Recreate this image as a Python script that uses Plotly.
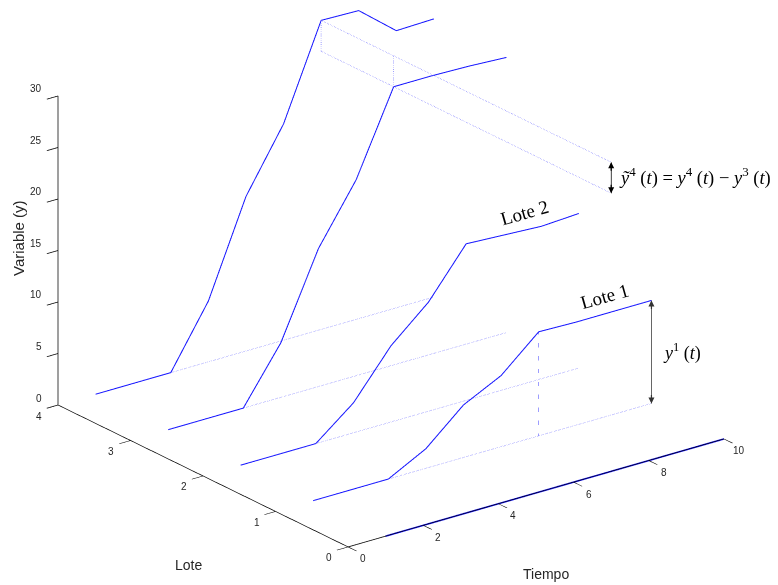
import plotly.graph_objects as go

# ---- data ----
tiempo = [1, 2, 3, 4, 5, 6, 7, 8, 9, 10]
lotes = [0, 1, 2, 3, 4]
y_lote0 = [0, 0, 0, 0, 0, 0, 0, 0, 0, 0]
y_lote1 = [0, 0, 0, 1.9, 5.1, 6.9, 10.1, 10.0, 10.0, 10.0]
y_lote2 = [0, 0, 0, 2.9, 7.4, 10.6, 15.2, 15.0, 14.8, 15.0]
y_lote3 = [0, 0, 0, 5.3, 13.4, 19.0, 27.0, 27.0, 26.9, 26.7]
y_lote4 = [0, 0, 0, 5.9, 15.0, 21.0, 30.0, 29.9, 26.9, 27.0]
series = [y_lote0, y_lote1, y_lote2, y_lote3, y_lote4]

x_ticks = [0, 2, 4, 6, 8, 10]
lote_ticks = [0, 1, 2, 3, 4]
z_ticks = [0, 5, 10, 15, 20, 25, 30]

BLUE = "#1414ff"
LIGHT = "#7c7cff"
ARROW = "#333333"
TICKC = "#262626"

fig = go.Figure()

# batch trajectories
for lote, ys in zip(lotes, series):
    fig.add_trace(go.Scatter3d(
        x=tiempo, y=[lote] * len(tiempo), z=ys, mode="lines",
        line=dict(color=BLUE, width=3.2 if lote == 0 else 2.0),
        hoverinfo="skip", showlegend=False))

# dotted base lines (z = 0) from t=3 to t=10 for lotes 1..4
t_start = tiempo[2]
t_end = tiempo[-1]
dot = dict(color=LIGHT, width=1.5, dash="dot")
for lote in lotes[1:]:
    fig.add_trace(go.Scatter3d(
        x=[t_start, t_end], y=[lote, lote], z=[0, 0], mode="lines",
        line=dot, hoverinfo="skip", showlegend=False))

# vertical dotted line for lote 1 at t = 7
k = 6
tk = tiempo[k]
fig.add_trace(go.Scatter3d(
    x=[tk, tk], y=[1, 1], z=[0, y_lote1[k]], mode="lines",
    line=dot, hoverinfo="skip", showlegend=False))

# dotted box between lote 4 and lote 3 at t = 7, carried to lote 0
for lote in [4, 3]:
    fig.add_trace(go.Scatter3d(
        x=[tk, tk], y=[lote, lote], z=[y_lote3[k], y_lote4[k]], mode="lines",
        line=dot, hoverinfo="skip", showlegend=False))
for zval in [y_lote4[k], y_lote3[k]]:
    fig.add_trace(go.Scatter3d(
        x=[tk, tk], y=[4, 0], z=[zval, zval], mode="lines",
        line=dot, hoverinfo="skip", showlegend=False))

# arrow shafts
fig.add_trace(go.Scatter3d(
    x=[t_end, t_end], y=[1, 1], z=[0, y_lote1[-1]], mode="lines",
    line=dict(color=ARROW, width=1.5), hoverinfo="skip", showlegend=False))
fig.add_trace(go.Scatter3d(
    x=[tk, tk], y=[0, 0], z=[y_lote3[k], y_lote4[k]], mode="lines",
    line=dict(color="black", width=1.5), hoverinfo="skip", showlegend=False))

ax_common = dict(
    showgrid=False, zeroline=False, showbackground=False, showspikes=False,
    showline=True, linecolor="black", linewidth=1.6,
    ticks="outside", tickcolor="black", ticklen=14, tickwidth=1.6,
    showticklabels=False,
    title=dict(text=""),
)

tick_font = dict(family="Liberation Sans", size=10, color=TICKC)
serif = dict(family="Liberation Serif", color="black")
head = dict(showarrow=True, arrowhead=2, arrowsize=1, arrowwidth=1.2, text="", ax=0)
scene_ann = [
    dict(x=t_end, y=1, z=y_lote1[-1], ay=10, arrowcolor=ARROW, **head),
    dict(x=t_end, y=1, z=0, ay=-10, arrowcolor=ARROW, **head),
    dict(x=tk, y=0, z=y_lote4[k], ay=10, arrowcolor="black", **head),
    dict(x=tk, y=0, z=y_lote3[k], ay=-10, arrowcolor="black", **head),
    dict(x=8.56, y=2, z=16.6, text="Lote 2", showarrow=False, textangle=-16,
         font=dict(size=19, **serif)),
    dict(x=8.74, y=1, z=11.75, text="Lote 1", showarrow=False, textangle=-16,
         font=dict(size=19, **serif)),
    dict(x=t_end, y=1, z=5, showarrow=False, xanchor="left", xshift=10,
         text="<i>y</i><sup>1</sup> (<i>t</i>)",
         font=dict(size=18, **serif)),
    dict(x=tk, y=0, z=28.6, showarrow=False, xanchor="left", xshift=6,
         text="<i>ỹ</i><sup>4</sup> (<i>t</i>) = <i>y</i><sup>4</sup> (<i>t</i>) − <i>y</i><sup>3</sup> (<i>t</i>)",
         font=dict(size=18.5, **serif)),
]
# horizontal tick labels
for v in x_ticks:
    scene_ann.append(dict(x=v, y=0, z=0, text=str(v), showarrow=False,
                          xanchor="center", yanchor="middle", xshift=15, yshift=-12,
                          font=tick_font))
for v in lote_ticks:
    scene_ann.append(dict(x=0, y=v, z=0, text=str(v), showarrow=False,
                          xanchor="center", yanchor="middle", xshift=-19, yshift=-11,
                          font=tick_font))
for v in z_ticks:
    scene_ann.append(dict(x=0, y=4, z=v, text=str(v), showarrow=False,
                          xanchor="right", yanchor="middle", xshift=-14, yshift=7,
                          font=tick_font))

s = 1.619
dz = -0.0924
fig.update_layout(
    width=778, height=585,
    margin=dict(l=0, r=0, t=0, b=0),
    paper_bgcolor="white",
    showlegend=False,
    scene=dict(
        xaxis=dict(range=[0, 10], tickvals=x_ticks, **ax_common),
        yaxis=dict(range=[0, 4], tickvals=lote_ticks, **ax_common),
        zaxis=dict(range=[0, 30], tickvals=z_ticks, **ax_common),
        aspectmode="manual",
        aspectratio=dict(x=1.0 * s, y=1.007 * s, z=0.704 * s),
        camera=dict(eye=dict(x=-0.564 * 2, y=-0.736 * 2, z=0.375 * 2 + dz),
                    up=dict(x=0, y=0, z=1), center=dict(x=0, y=0, z=dz),
                    projection=dict(type="orthographic")),
        domain=dict(x=[0.005, 1], y=[0, 1]),
        annotations=scene_ann,
    ),
    annotations=[
        dict(text="Tiempo", x=546 / 778, y=1 - 574 / 585, xref="paper", yref="paper",
             xanchor="center", yanchor="middle",
             showarrow=False, font=dict(family="Liberation Sans", size=14, color=TICKC)),
        dict(text="Lote", x=188 / 778, y=1 - 565 / 585, xref="paper", yref="paper",
             xanchor="center", yanchor="middle",
             showarrow=False, font=dict(family="Liberation Sans", size=14, color=TICKC)),
        dict(text="Variable (y)", x=18 / 778, y=1 - 238 / 585, xref="paper", yref="paper",
             xanchor="center", yanchor="middle", textangle=-90,
             showarrow=False, font=dict(family="Liberation Sans", size=15, color=TICKC)),
    ],
)

fig.write_html("out.html", config={"displayModeBar": False},
               post_script="document.body.style.margin='0px';document.body.style.overflow='hidden';")
